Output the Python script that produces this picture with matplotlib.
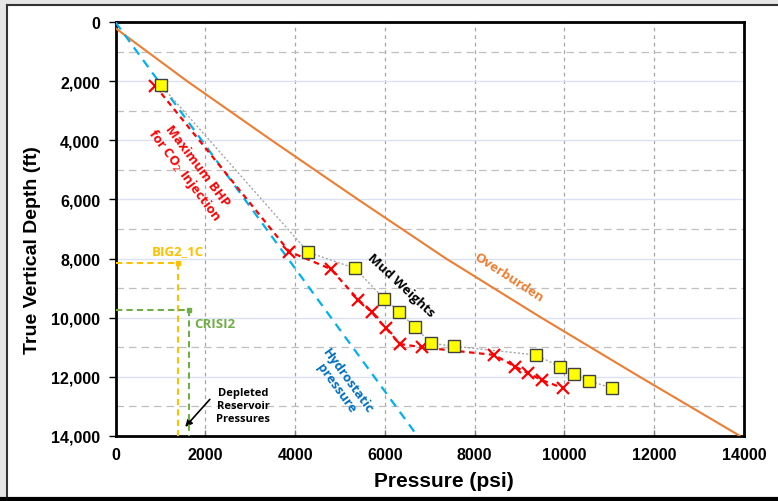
import numpy as np
import matplotlib.pyplot as plt
from matplotlib.ticker import FuncFormatter, MultipleLocator
from matplotlib.lines import Line2D

plt.rcParams['font.family'] = ['Liberation Sans', 'DejaVu Sans']
NOTE_FONT = ['Open Sans', 'DejaVu Sans']

# Overburden pressure vs depth
ob_depth = [200, 2000, 4000, 6000, 8000, 10000, 12000, 14000]
ob_psi = [0, 1600, 3480, 5400, 7360, 9480, 11670, 13900]

# Hydrostatic pressure
hyd_depth = [0, 14000]
hyd_psi = [0, 6720]

# Mud weights (squares)
mud_psi = [1007, 4294, 5334, 5987, 6314, 6670, 7027, 7546, 9365, 9900, 10212, 10546, 11065]
mud_depth = [2123, 7789, 8331, 9370, 9800, 10328, 10870, 10972, 11266, 11663, 11910, 12137, 12394]

# Maximum BHP for CO2 injection (crosses)
bhp_psi = [880, 3871, 4793, 5408, 5706, 6024, 6336, 6820, 8437, 8904, 9194, 9492, 9973]
bhp_depth = [2147, 7768, 8354, 9394, 9821, 10362, 10894, 11006, 11266, 11663, 11886, 12113, 12394]

# Depleted reservoir pressures
big2_psi, big2_depth = 1400, 8160
crisi2_psi, crisi2_depth = 1640, 9760

fig = plt.figure(figsize=(7.78, 5.02), dpi=100)
ax = fig.add_axes([0.1485, 0.1301, 0.8078, 0.8235])

# frame around the chart (left, top, bottom edges)
fig.add_artist(Line2D([0.004, 0.004], [0, 1], color='#E6E6E6', lw=6))
fig.add_artist(Line2D([0, 1], [0.996, 0.996], color='#E6E6E6', lw=6))
fig.add_artist(Line2D([0.009, 1], [0.989, 0.989], color='#333333', lw=1.5))
fig.add_artist(Line2D([0.009, 0.009], [0.0, 0.989], color='#333333', lw=1.5))
fig.add_artist(Line2D([0, 1], [0.004, 0.004], color='black', lw=3))

ax.set_xlim(0, 14000)
ax.set_ylim(14000, 0)

# grid
for x in range(2000, 14000, 2000):
    ax.axvline(x, color='#A6A6A6', lw=0.9, ls=(0, (3, 3)), zorder=0)
for y in range(2000, 14000, 2000):
    ax.axhline(y, color='#D9E1F2', lw=1.0, zorder=0)
for y in range(1000, 14000, 2000):
    ax.axhline(y, color='#BFBFBF', lw=0.9, ls=(0, (6, 4)), zorder=0)

ax.plot(ob_psi, ob_depth, color='#ED7D31', lw=1.5, zorder=3)
ax.plot(hyd_psi, hyd_depth, color='#00B0F0', lw=1.6, ls=(0, (4, 3)), zorder=3)

ax.plot(mud_psi, mud_depth, color='#A6A6A6', lw=1.0, ls=(0, (1.5, 1.5)), zorder=4)
ax.plot(bhp_psi, bhp_depth, color='#FF0000', lw=1.6, ls=(0, (2.5, 2)), zorder=4)
ax.plot(bhp_psi, bhp_depth, ls='none', marker='x', ms=9, mew=1.6, color='#FF0000', zorder=5)
ax.plot(mud_psi, mud_depth, ls='none', marker='s', ms=8, mfc='#FFFF00', mec='#404040',
        mew=1.0, zorder=6)

# depleted reservoirs
for p, d, c in [(big2_psi, big2_depth, '#FFC000'), (crisi2_psi, crisi2_depth, '#70AD47')]:
    ax.plot([0, p, p], [d, d, 14000], color=c, lw=1.5, ls=(0, (3, 2)), zorder=4)
    ax.plot([p], [d], ls='none', marker='s', ms=3.5, color=c, zorder=4)

ax.text(1390, 7745, 'BIG2_1C', color='#FFC000', fontsize=9.5, fontweight='bold',
        ha='center', va='center', family=NOTE_FONT)
ax.text(2216, 10217, 'CRISI2', color='#70AD47', fontsize=9.5, fontweight='bold',
        ha='center', va='center', family=NOTE_FONT)
ax.text(2846, 12984, 'Depleted\nReservoir\nPressures', color='black', fontsize=8,
        fontweight='bold', ha='center', va='center', linespacing=1.25,
        family=NOTE_FONT)
ax.annotate('', xy=(1510, 13773), xytext=(2142, 12700),
            arrowprops=dict(arrowstyle='-|>', color='black', lw=1.2, mutation_scale=10))

ax.text(1659, 5002, 'Maximum BHP\nfor CO$_2$ Injection', color='#FF0000', fontsize=9.5,
        fontweight='bold', ha='center', va='center', rotation=-53,
        rotation_mode='anchor', linespacing=1.05, family=NOTE_FONT)
ax.text(6352, 8896, 'Mud Weights', color='black', fontsize=9.5, fontweight='bold',
        ha='center', va='center', rotation=-43, rotation_mode='anchor',
        family=NOTE_FONT)
ax.text(8748, 8635, 'Overburden', color='#ED7D31', fontsize=9.5, fontweight='bold',
        ha='center', va='center', rotation=-33, rotation_mode='anchor',
        family=NOTE_FONT)
ax.text(5038, 12249, 'Hydrostatic\npressure', color='#0070C0', fontsize=9.5,
        fontweight='bold', ha='center', va='center', rotation=-54,
        rotation_mode='anchor', linespacing=1.05, family=NOTE_FONT)

# axes
ax.xaxis.set_major_locator(MultipleLocator(2000))
ax.yaxis.set_major_locator(MultipleLocator(2000))
ax.yaxis.set_major_formatter(FuncFormatter(lambda v, p: f'{int(v):,}'))
ax.xaxis.set_major_formatter(FuncFormatter(lambda v, p: f'{int(v)}'))
ax.tick_params(axis='x', direction='in', length=4, width=1, color='#808080',
               labelsize=11.5, pad=8)
ax.tick_params(axis='y', direction='out', length=5, width=1, labelsize=11.5, pad=6)
for lab in ax.get_xticklabels() + ax.get_yticklabels():
    lab.set_fontweight('bold')
for s in ax.spines.values():
    s.set_linewidth(2)
    s.set_color('black')

ax.set_xlabel('Pressure (psi)', fontsize=15, fontweight='bold')
ax.set_ylabel('True Vertical Depth (ft)', fontsize=14, fontweight='bold')
ax.xaxis.set_label_coords(0.5227, -0.085)
ax.yaxis.set_label_coords(-0.118, 0.4516)

fig.savefig('out.png', dpi=100)
